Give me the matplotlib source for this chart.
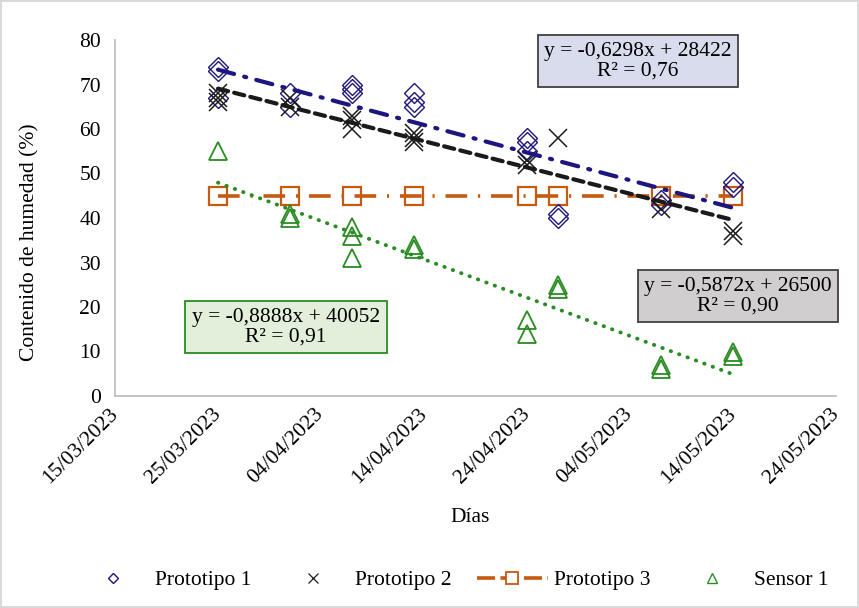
import matplotlib
matplotlib.use("Agg")
import matplotlib.pyplot as plt
import matplotlib.dates as mdates
from matplotlib.lines import Line2D
import numpy as np
import datetime as dt

plt.rcParams['font.family'] = ['Liberation Serif', 'DejaVu Serif']

# ---------------- data ----------------
fechas = ["25/03/2023", "01/04/2023", "07/04/2023", "13/04/2023",
          "24/04/2023", "27/04/2023", "07/05/2023", "14/05/2023"]

prototipo1 = [[74, 73, 67], [68, 65], [70, 69, 68], [68, 66, 65],
              [58, 57, 55], [41, 40], [44, 43], [48, 47]]
prototipo2 = [[68, 67, 66], [67, 65], [63, 62, 60], [59, 58, 57],
              [53, 52], [58], [42], [37, 36]]
prototipo3 = [45, 45, 45, 45, 45, 45, 45, 45]
sensor1 = [[55], [41, 40], [38, 36, 31], [34, 33],
           [17, 14], [25, 24], [7, 6], [10, 9]]

tick_fechas = ["15/03/2023", "25/03/2023", "04/04/2023", "14/04/2023",
               "24/04/2023", "04/05/2023", "14/05/2023", "24/05/2023"]
y_ticks = [0, 10, 20, 30, 40, 50, 60, 70, 80]

eq_p1 = "y = -0,6298x + 28422\nR² = 0,76"
eq_p2 = "y = -0,5872x + 26500\nR² = 0,90"
eq_s1 = "y = -0,8888x + 40052\nR² = 0,91"

labels = ["Prototipo 1", "Prototipo 2", "Prototipo 3", "Sensor 1"]

# ---------------- helpers ----------------
def to_num(s):
    return mdates.date2num(dt.datetime.strptime(s, "%d/%m/%Y"))

xd = np.array([to_num(f) for f in fechas])

def flatten(groups):
    xs, ys = [], []
    for x, g in zip(xd, groups):
        for v in g:
            xs.append(x)
            ys.append(v)
    return np.array(xs), np.array(ys)

c_blue = '#1d1580'
c_black = '#1a1a1a'
c_orange = '#c55a11'
c_green = '#2a8c22'

fig = plt.figure(figsize=(8.59, 6.08), dpi=100)
fig.patch.set_facecolor('white')
fig.patch.set_edgecolor('#d9d9d9')
fig.patch.set_linewidth(1.5)

ax = fig.add_axes([115/859, 1 - 396/608, 721/859, 356/608])

FS = 15.5

# markers
x1, y1 = flatten(prototipo1)
x2, y2 = flatten(prototipo2)
xs, ys = flatten(sensor1)

ax.plot(xd, prototipo3, linestyle=(0, (6, 3, 0.6, 3)), color=c_orange, lw=2.6,
        marker='s', markersize=13.5, markerfacecolor='none',
        markeredgecolor=c_orange, markeredgewidth=1.6, zorder=3)
ax.plot(x1, y1, linestyle='none', marker='D', markersize=10.2,
        markerfacecolor='none', markeredgecolor=c_blue, markeredgewidth=1.0, zorder=4)
ax.plot(x2, y2, linestyle='none', marker='x', markersize=13.5,
        markeredgecolor=c_black, markeredgewidth=1.1, zorder=4)
ax.plot(xs, ys, linestyle='none', marker='^', markersize=13.5,
        markerfacecolor='none', markeredgecolor=c_green, markeredgewidth=1.3, zorder=4)

# trendlines (least squares through the library)
xr = np.array([xd[0], xd[-1]])
for xx, yy, col, ls, lw in [
        (x1, y1, c_blue, (0, (4, 2.5, 0.5, 2.5)), 3.0),
        (x2, y2, c_black, (0, (2.5, 1.5)), 3.0),
        (xs, ys, c_green, (0, (0.1, 2.2)), 2.8)]:
    p = np.polyfit(xx, yy, 1)
    ax.plot(xr, np.polyval(p, xr), color=col, linestyle=ls, lw=lw,
            dash_capstyle='round', solid_capstyle='round', zorder=5)

# axes style
ax.set_xlim(to_num(tick_fechas[0]), to_num(tick_fechas[-1]))
ax.set_ylim(0, 80)
ax.set_yticks(y_ticks)
ax.set_yticklabels([str(v) for v in y_ticks], fontsize=FS)
ax.set_xticks([to_num(t) for t in tick_fechas])
ax.set_xticklabels(tick_fechas, fontsize=FS, rotation=45, ha='right',
                   va='center', rotation_mode='anchor')
ax.tick_params(axis='both', length=0)
ax.tick_params(axis='y', pad=10)
ax.tick_params(axis='x', pad=11)
for s in ['top', 'right']:
    ax.spines[s].set_visible(False)
for s in ['left', 'bottom']:
    ax.spines[s].set_color('#bfbfbf')
    ax.spines[s].set_linewidth(1.3)

fig.text(30/859, 1 - 242/608, "Contenido de humedad (%)", rotation=90,
         ha='center', va='center', fontsize=FS)
fig.text(470/859, 1 - 518/608, "Días", ha='center', va='center', fontsize=FS)

# equation boxes
fig.text(638/859, 1 - 61/608, eq_p1, ha='center', va='center', fontsize=FS,
         multialignment='center', linespacing=1.05,
         bbox=dict(boxstyle='square,pad=0.3', facecolor='#d9dced',
                   edgecolor='#404040', linewidth=1.3))
fig.text(738/859, 1 - 296/608, eq_p2, ha='center', va='center', fontsize=FS,
         multialignment='center', linespacing=1.05,
         bbox=dict(boxstyle='square,pad=0.3', facecolor='#d0cece',
                   edgecolor='#404040', linewidth=1.3))
fig.text(286/859, 1 - 327/608, eq_s1, ha='center', va='center', fontsize=FS,
         multialignment='center', linespacing=1.05,
         bbox=dict(boxstyle='square,pad=0.3', facecolor='#e2efda',
                   edgecolor=c_green, linewidth=1.3))

# legend
handles = [
    Line2D([], [], linestyle='none', marker='D', markersize=5.5,
           markerfacecolor='none', markeredgecolor=c_blue, markeredgewidth=1.0),
    Line2D([], [], linestyle='none', marker='x', markersize=7,
           markeredgecolor=c_black, markeredgewidth=0.9),
    Line2D([], [], linestyle=(0, (5, 1.5)), color=c_orange, lw=2.6,
           marker='s', markersize=8, markerfacecolor='white',
           markeredgecolor=c_orange, markeredgewidth=1.3),
    Line2D([], [], linestyle='none', marker='^', markersize=7,
           markerfacecolor='none', markeredgecolor=c_green, markeredgewidth=1.0),
]
fig.legend(handles, labels, loc='center', bbox_to_anchor=(453/859, 1 - 580/608),
           ncol=4, frameon=False, fontsize=FS, handlelength=3.3,
           handletextpad=0.3, columnspacing=1.2)

fig.savefig("out.png", dpi=100, facecolor=fig.get_facecolor(),
            edgecolor=fig.get_edgecolor())
